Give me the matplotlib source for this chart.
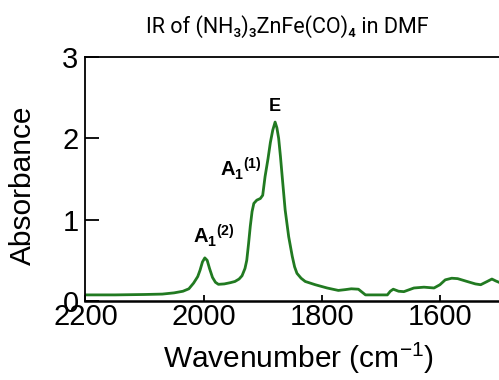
import matplotlib
matplotlib.use("Agg")
import matplotlib.pyplot as plt

wavenumber = [2200, 2150, 2100, 2070, 2050, 2035, 2025, 2017, 2010, 2006, 2002, 1998,
              1994, 1990, 1985, 1980, 1975, 1965, 1955, 1947, 1940, 1935, 1930, 1927,
              1924, 1921, 1918, 1915, 1910, 1904, 1900, 1896, 1891, 1887, 1883, 1879,
              1876, 1873, 1870, 1867, 1862, 1856, 1850, 1846, 1842, 1835, 1828, 1811,
              1791, 1772, 1760, 1750, 1738, 1732, 1726, 1710, 1689, 1684, 1679, 1670,
              1661, 1644, 1627, 1610, 1600, 1591, 1580, 1570, 1554, 1540, 1531, 1520,
              1512, 1505, 1500]
absorbance = [0.075, 0.075, 0.08, 0.085, 0.10, 0.12, 0.15, 0.22, 0.30, 0.38, 0.48, 0.53,
              0.50, 0.40, 0.29, 0.23, 0.205, 0.21, 0.225, 0.24, 0.27, 0.31, 0.40, 0.50,
              0.70, 0.92, 1.10, 1.20, 1.24, 1.26, 1.30, 1.53, 1.75, 1.95, 2.10, 2.20,
              2.13, 2.00, 1.78, 1.53, 1.12, 0.79, 0.55, 0.42, 0.34, 0.28, 0.24, 0.20,
              0.16, 0.13, 0.14, 0.15, 0.145, 0.11, 0.075, 0.075, 0.075, 0.12, 0.145, 0.12,
              0.115, 0.16, 0.17, 0.16, 0.20, 0.26, 0.28, 0.275, 0.24, 0.21, 0.20, 0.24,
              0.27, 0.245, 0.23]

xticks = [2200, 2000, 1800, 1600]
yticks = [0, 1, 2, 3]

peak_labels = [r'$\mathbf{E}$', r'$\mathbf{A_1{}^{(1)}}$', r'$\mathbf{A_1{}^{(2)}}$']
peak_pos = [(1879, 2.34), (1972, 1.53), (2018, 0.71)]
peak_ha = ['center', 'left', 'left']
peak_size = [13, 14.5, 14.5]

plt.rcParams['font.family'] = ['Liberation Sans', 'DejaVu Sans']
plt.rcParams['mathtext.fontset'] = 'custom'
plt.rcParams['mathtext.rm'] = 'Liberation Sans'
plt.rcParams['mathtext.it'] = 'Liberation Sans:italic'
plt.rcParams['mathtext.bf'] = 'Liberation Sans:bold'

fig = plt.figure(figsize=(4.99, 3.8), dpi=100)
ax = fig.add_axes([0.1713, 0.2079, 1 - 0.1713, 0.85 - 0.2079])

ax.plot(wavenumber, absorbance, color='#217a21', lw=2)
ax.set_xlim(2200, 1500)
ax.set_ylim(0, 3)
ax.set_xticks(xticks)
ax.set_yticks(yticks)
ax.tick_params(axis='x', direction='in', length=4.5, width=1.3, labelsize=21, pad=1.5)
ax.tick_params(axis='y', direction='in', length=10, width=1.3, labelsize=21, pad=5)
for s in ['left', 'top']:
    ax.spines[s].set_linewidth(1.3)
ax.spines['bottom'].set_linewidth(1.8)
ax.spines['right'].set_visible(False)

ax.set_xlabel(r'Wavenumber (cm$^{-1}$)', fontsize=21.5)
ax.xaxis.label.set_va('baseline')
ax.xaxis.set_label_coords(0.514, -0.275)
ax.set_ylabel('Absorbance', fontsize=21.5)
ax.yaxis.label.set_va('center')
ax.yaxis.set_label_coords(-0.151, 0.475)

for lab, (px, py), ha, fs in zip(peak_labels, peak_pos, peak_ha, peak_size):
    ax.text(px, py, lab, fontsize=fs, ha=ha, va='baseline')

fig.text(0.575, 1 - 33 / 380, 'IR of (NH₃)₃ZnFe(CO)₄ in DMF', ha='center', va='baseline',
         fontsize=15.5, family=['Roboto', 'DejaVu Sans'])

fig.savefig('out.png', dpi=100)
